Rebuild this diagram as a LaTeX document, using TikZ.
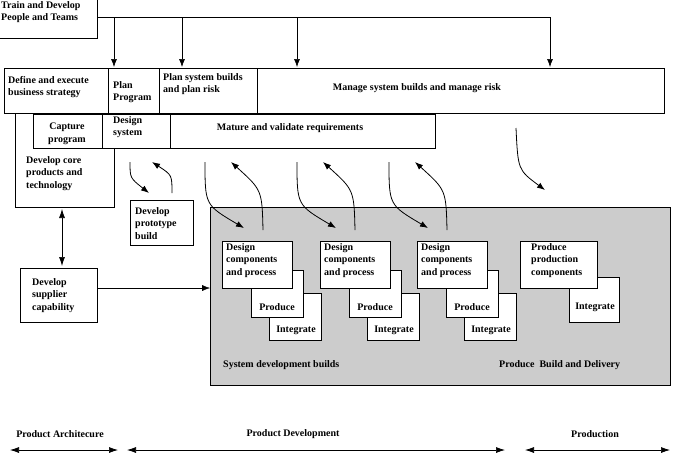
\documentclass[tikz,border=0pt]{standalone}
\usepackage{fontspec}
\setmainfont{Liberation Serif}
\usetikzlibrary{arrows.meta}
\begin{document}
\begin{tikzpicture}[x=1pt,y=-1pt,
  bx/.style={draw,line width=0.9pt,fill=white},
  t/.style={font=\bfseries\fontsize{10}{12.5}\selectfont,inner sep=1pt,align=left},
  ar/.style={-{Latex[length=8pt,width=6pt]},line width=0.8pt},
  da/.style={{Latex[length=9pt,width=6pt]}-{Latex[length=9pt,width=6pt]},line width=0.7pt}]
\useasboundingbox (0,0) rectangle (676,459);
% train box
\draw[bx] (-1,-1) rectangle (97,38);
\node[t,anchor=north west] (train) at (0,0) {Train and Develop\\People and Teams};
\coordinate (tl) at (97,17);
\coordinate (tr) at (550,17);
\draw[line width=0.6pt] (tl) -- (tr);
\foreach \x/\n in {114/a,182/b,297/c,550/d}{
  \coordinate (s\n) at (\x,17); \coordinate (e\n) at (\x,67);
  \draw[ar,line width=0.6pt] (s\n) -- (e\n);}
% gray area
\draw[line width=0.9pt,fill=gray!40] (210,207) rectangle (670,385);
% develop core polygon
\draw[bx] (15,113) -- (15,207) -- (114,207) -- (114,148) -- (33,148) -- (33,113);
\node[t,anchor=north west] (core) at (25,155) {Develop core\\products and\\technology};
% top row
\draw[bx] (4,68) rectangle (108,113);
\draw[bx] (108,68) rectangle (159,113);
\draw[bx] (159,68) rectangle (257,113);
\draw[bx] (257,68) rectangle (664,113);
\node[t,anchor=north west] (def) at (7,75) {Define and execute\\business strategy};
\node[t,anchor=north west] (plan) at (112,80) {Plan\\Program};
\node[t,anchor=north west] (psb) at (162,72) {Plan system builds\\and plan risk};
\node[t] (msb) at (417,88) {Manage system builds and manage risk};
% second row
\draw[bx] (33,114) rectangle (102,148);
\draw[bx] (102,114) rectangle (170,148);
\draw[bx] (170,114) rectangle (435,148);
\node[t,align=center] (cap) at (67,134) {Capture\\program};
\node[t,anchor=north west] (ds) at (112,115) {Design\\system};
\node[t] (mvr) at (290,128) {Mature and validate requirements};
% prototype
\draw[bx] (130,200) rectangle (193,245);
\node[t,anchor=north west] (proto) at (134,206) {Develop\\prototype\\build};
% supplier
\draw[bx] (20,268) rectangle (97,322);
\node[t,anchor=north west] (sup) at (31,277) {Develop\\supplier\\capability};
\coordinate (c1) at (62,209); \coordinate (c2) at (62,266);
\draw[da] (c1) -- (c2);
\coordinate (s1) at (97,288); \coordinate (s2) at (210,288);
\draw[ar,line width=0.4pt] (s1) -- (s2);
% build groups
\foreach \dx/\g in {0/1,98/2,195/3}{
  \begin{scope}[xshift=\dx]
  \draw[bx] (269,293) rectangle (321,340);
  \draw[bx] (251,270) rectangle (303,317);
  \draw[bx] (222,241) rectangle (292,288);
  \node[t,anchor=north west] (dc\g) at (225,242) {Design\\components\\and process};
  \node[t] (pr\g) at (277,307) {Produce};
  \node[t] (in\g) at (296,330) {Integrate};
  \end{scope}}
\draw[bx] (569,277) rectangle (619,322);
\draw[bx] (520,241) rectangle (597,288);
\node[t,anchor=north west] (ppc) at (530,242) {Produce\\production\\components};
\node[t] (in4) at (595,307) {Integrate};
\node[t,anchor=west] (sdb) at (222,365) {System development builds};
\node[t,anchor=west] (pbd) at (498,365) {Produce\ \ Build and Delivery};
% curved arrows
\coordinate (p1) at (130,162); \coordinate (p2) at (149,193);
\draw[ar] (p1) .. controls (130,178) .. (p2);
\coordinate (p3) at (172,193); \coordinate (p4) at (152,162);
\draw[ar] (p3) .. controls (172,175) .. (p4);
\foreach \dx/\g in {0/1,92/2,184/3}{
  \begin{scope}[xshift=\dx]
  \coordinate (d\g a) at (205,162); \coordinate (d\g b) at (244,228);
  \draw[ar] (d\g a) .. controls (205,205) .. (d\g b);
  \coordinate (u\g a) at (263,230); \coordinate (u\g b) at (231,162);
  \draw[ar] (u\g a) .. controls (262,190) .. (u\g b);
  \end{scope}}
\coordinate (m1) at (516,128); \coordinate (m2) at (545,190);
\draw[ar] (m1) .. controls (518,170) .. (m2);
% bottom
\node[t] (pa) at (60,434) {Product Architecure};
\node[t] (pd) at (293,434) {Product Development};
\node[t] (pn) at (595,434) {Production};
\coordinate (b1) at (10,450); \coordinate (b2) at (118,450);
\coordinate (b3) at (127,450); \coordinate (b4) at (505,450);
\coordinate (b5) at (525,450); \coordinate (b6) at (670,450);
\draw[da] (b1) -- (b2); \draw[da] (b3) -- (b4); \draw[da] (b5) -- (b6);
\end{tikzpicture}
\end{document}
